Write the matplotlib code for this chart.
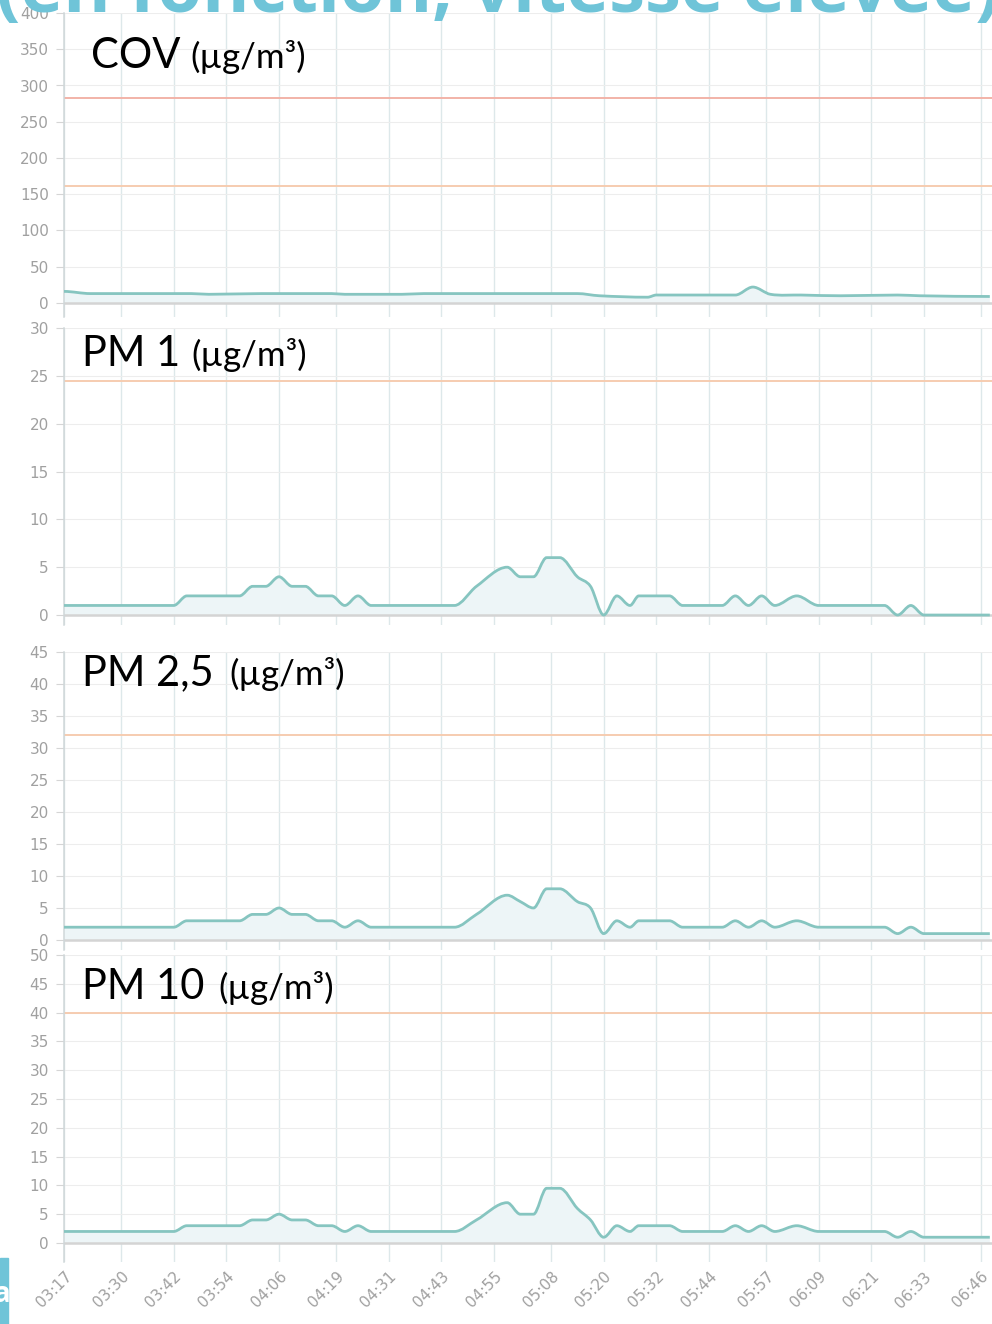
import numpy as np
import matplotlib.pyplot as plt
from matplotlib.patches import Rectangle, PathPatch
from matplotlib.path import Path

plt.rcParams['font.family'] = ['Open Sans', 'DejaVu Sans']

W, H = 992, 1324

horas = ['03:17', '03:30', '03:42', '03:54', '04:06', '04:19', '04:31', '04:43', '04:55',
         '05:08', '05:20', '05:32', '05:44', '05:57', '06:09', '06:21', '06:33', '06:46']
# minutes depuis 03:17
t_ticks = [int(h[:2]) * 60 + int(h[3:]) - 197 for h in horas]

t_cov = [0, 6, 29, 33, 45, 61, 64, 77, 82, 117, 122, 133, 135, 153, 157, 161, 168, 177, 190, 195, 211]
cov = [16, 13, 13, 12, 13, 13, 12, 12, 13, 13, 10, 8, 11, 11, 22, 12, 11, 10, 11, 10, 9]

t_pm = [0, 25, 28, 40, 43, 46, 49, 52, 55, 58, 61, 64, 67, 70, 89, 94, 101, 104, 107, 110,
        113, 117, 120, 123, 126, 129, 131, 138, 141, 150, 153, 156, 159, 162, 167, 172, 187,
        190, 193, 196, 211]
pm1 = [1, 1, 2, 2, 3, 3, 4, 3, 3, 2, 2, 1, 2, 1, 1, 3, 5, 4, 4, 6,
       6, 4, 3, 0, 2, 1, 2, 2, 1, 1, 2, 1, 2, 1, 2, 1, 1,
       0, 1, 0, 0]
pm25 = [2, 2, 3, 3, 4, 4, 5, 4, 4, 3, 3, 2, 3, 2, 2, 4, 7, 6, 5, 8,
        8, 6, 5, 1, 3, 2, 3, 3, 2, 2, 3, 2, 3, 2, 3, 2, 2,
        1, 2, 1, 1]
pm10 = [2, 2, 3, 3, 4, 4, 5, 4, 4, 3, 3, 2, 3, 2, 2, 4, 7, 5, 5, 9.5,
        9.5, 6, 4, 1, 3, 2, 3, 3, 2, 2, 3, 2, 3, 2, 3, 2, 2,
        1, 2, 1, 1]

limites_cov = [283, 162]
limite_pm1 = 24.5
limite_pm25 = 32
limite_pm10 = 40

# (titre, x titre, x unite, ligne de base, haut px, bas px, ymin, ymax, pas, t, valeurs, limites)
panneaux = [
    ('COV', 91, 190, 68, 13, 317.5, -20, 400, 50, t_cov, cov, limites_cov),
    ('PM 1', 82, 191, 366, 328, 624.6, -1, 30, 5, t_pm, pm1, [limite_pm1]),
    ('PM 2,5', 82, 229, 685, 652, 949.6, -1.5, 45, 5, t_pm, pm25, [limite_pm25]),
    ('PM 10', 82, 218, 999, 955, 1262, -3.3, 50, 5, t_pm, pm10, [limite_pm10]),
]

couleurs_limites = ['#f2b3a8', '#f6ccb0']


def chemin_lisse(t, v):
    # courbe de Bezier passant par les points (tangente nulle aux extremums)
    n = len(t)
    pentes = []
    for i in range(n):
        if i == 0 or i == n - 1:
            pentes.append(0.0)
        elif (v[i] - v[i - 1]) * (v[i + 1] - v[i]) <= 0:
            pentes.append(0.0)
        else:
            pentes.append((v[i + 1] - v[i - 1]) / (t[i + 1] - t[i - 1]))
    verts = [(t[0], v[0])]
    codes = [Path.MOVETO]
    for i in range(n - 1):
        d = (t[i + 1] - t[i]) / 3
        verts += [(t[i] + d, v[i] + pentes[i] * d),
                  (t[i + 1] - d, v[i + 1] - pentes[i + 1] * d),
                  (t[i + 1], v[i + 1])]
        codes += [Path.CURVE4] * 3
    return verts, codes


fig = plt.figure(figsize=(W / 100, H / 100), dpi=100)

gauche = 64
for i, (titre, xt, xu, base, haut, bas, ymin, ymax, pas, t, v, limites) in enumerate(panneaux):
    ax = fig.add_axes([gauche / W, 1 - bas / H, (W - gauche) / W, (bas - haut) / H])
    ax.set_xlim(0, 211.5)
    ax.set_ylim(ymin, ymax)
    ax.set_yticks(np.arange(0, ymax + 1, pas))
    ax.set_xticks(t_ticks)
    ax.grid(axis='y', color='#ededed', linewidth=0.8)
    ax.grid(axis='x', color='#dde8ea', linewidth=1.0)
    ax.set_axisbelow(True)
    for s in ['top', 'right', 'bottom']:
        ax.spines[s].set_visible(False)
    ax.spines['left'].set_color('#cfd7d9')
    ax.spines['left'].set_linewidth(1.1)

    verts, codes = chemin_lisse(t, v)
    fond = Path(verts + [(t[-1], 0), (t[0], 0), (t[0], v[0])],
                codes + [Path.LINETO, Path.LINETO, Path.CLOSEPOLY])
    ax.add_patch(PathPatch(fond, facecolor='#edf5f7', edgecolor='none', zorder=2))
    ax.axhline(0, color='#d4d4d4', linewidth=1.8, zorder=2)
    for j, lim in enumerate(limites):
        c = couleurs_limites[j] if titre == 'COV' else couleurs_limites[1]
        ax.axhline(lim, color=c, linewidth=1.4, zorder=2)
    ax.add_patch(PathPatch(Path(verts, codes), facecolor='none', edgecolor='#86c5c0',
                           linewidth=2.0, zorder=3))

    ax.tick_params(axis='y', labelsize=11, labelcolor='#a0a0a0', color='#d5d5d5', length=6, pad=5)
    for lab in ax.get_yticklabels():
        lab.set_family(['DejaVu Sans'])
    ax.tick_params(axis='x', length=0)
    if i < 3:
        ax.set_xticklabels([])
    else:
        ax.set_xticklabels(horas, rotation=45, ha='right', va='top', rotation_mode='anchor',
                           fontsize=11, color='#a0a0a0', family=['DejaVu Sans'])
        ax.tick_params(axis='x', pad=5)

    fig.text(xt / W, 1 - base / H, titre, fontsize=30, family=['Lato', 'DejaVu Sans'],
             va='baseline', ha='left', color='black')
    fig.text(xu / W, 1 - base / H, '(µg/m³)', fontsize=25, family=['Lato', 'DejaVu Sans'],
             va='baseline', ha='left', color='black')

# titre coupé en haut de la diapositive
fig.text(-4 / W, 1 - 12 / H, '(en fonction, vitesse élevée)', fontsize=52, fontweight='bold',
         color='#6fc4d8', va='baseline', ha='left')

fig.patches.append(Rectangle((0, 0), 8 / W, 66 / H, transform=fig.transFigure,
                             color='#6fc4d8', zorder=5))
fig.text(-6 / W, 22 / H, 'a', fontsize=20, fontweight='bold', color='white', zorder=6)

fig.savefig('out.png', dpi=100)
